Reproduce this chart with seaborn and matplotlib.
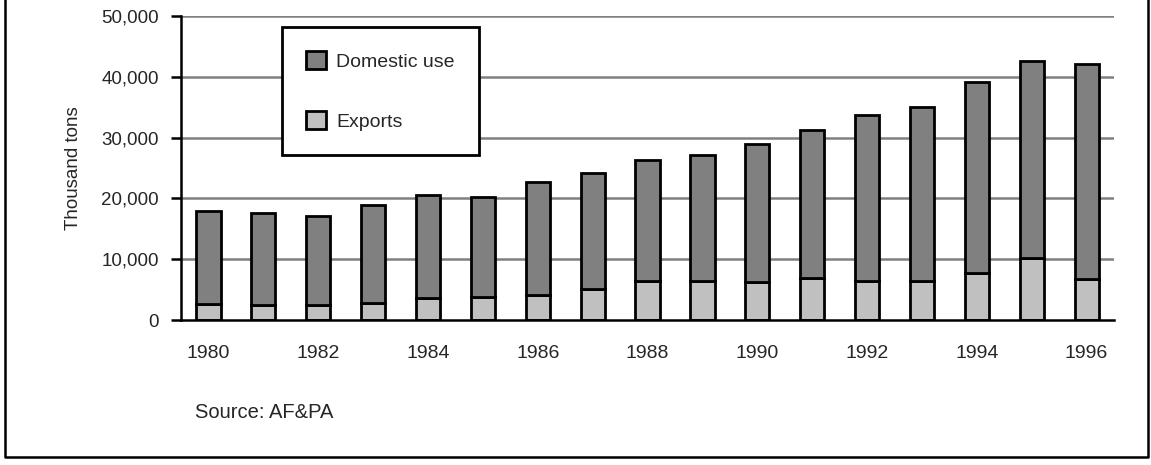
import matplotlib
matplotlib.use("Agg")
import matplotlib.pyplot as plt
import seaborn as sns
import pandas as pd
from matplotlib.patches import Patch
from matplotlib.lines import Line2D
from matplotlib.ticker import FuncFormatter, FixedLocator

# Data (thousand tons)
years = [str(y) for y in range(1980, 1997)]
exports = [2700, 2400, 2400, 2800, 3700, 3800, 4150, 5150, 6350, 6350,
           6300, 6850, 6350, 6350, 7700, 10250, 6800]
domestic = [15250, 15250, 14700, 16050, 16900, 16400, 18600, 18950, 19950, 20850,
            22650, 24350, 27400, 28750, 31400, 32300, 35350]
tick_labels = [y if int(y) % 2 == 0 else "" for y in years]

df = pd.DataFrame({"year": years, "exports": exports, "domestic": domestic})

sns.set_style("white")
plt.rcParams["font.family"] = ["Liberation Sans", "DejaVu Sans"]

fig = plt.figure(figsize=(11.51, 4.65), dpi=100)
ax = fig.add_axes([0.1573, 0.3118, 0.8106, 0.6538])

# gridlines behind the bars
for v in range(10000, 50001, 10000):
    ax.axhline(v, color="#808080", lw=1.8, zorder=0)

bar_kw = dict(width=0.44, saturation=1, edgecolor="black", linewidth=2.0,
              errorbar=None, ax=ax, zorder=2)
sns.barplot(data=df, x="year", y="exports", color="#c0c0c0", **bar_kw)
sns.barplot(data=df, x="year", y="domestic", color="#808080",
            bottom=df["exports"].values, **bar_kw)

ax.set_xlim(-0.5, len(years) - 0.5)
ax.set_ylim(0, 50000)
ax.set_yticks(range(0, 50001, 10000))
ax.yaxis.set_major_formatter(FuncFormatter(lambda v, p: f"{int(v):,}"))
ax.set_xticks(range(len(years)))
ax.set_xticklabels(tick_labels)
ax.xaxis.set_minor_locator(FixedLocator([i - 0.5 for i in range(len(years) + 1)]))

ax.tick_params(axis="x", which="major", length=0, pad=18, labelsize=14)
ax.tick_params(axis="x", which="minor", length=10, width=1.8, direction="inout", color="black")
ax.tick_params(axis="y", which="major", length=7, width=1.8, direction="out", color="black",
               labelsize=13.5, pad=9, left=True)

for s in ["top", "right"]:
    ax.spines[s].set_visible(False)
for s in ["left", "bottom"]:
    ax.spines[s].set_color("black")
    ax.spines[s].set_linewidth(1.8)
    ax.spines[s].set_zorder(4)

ax.set_xlabel("")
ax.set_ylabel("Thousand tons", fontsize=13.5, labelpad=14)

handles = [Patch(facecolor="#808080", edgecolor="black", linewidth=2.0, label="Domestic use"),
           Patch(facecolor="#c0c0c0", edgecolor="black", linewidth=2.0, label="Exports")]
leg = ax.legend(handles=handles, loc="upper left", bbox_to_anchor=(0.108, 0.964),
                frameon=True, fancybox=False, fontsize=14, handlelength=1.0,
                handleheight=1.0, labelspacing=2.1, borderpad=1.25, handletextpad=0.55,
                borderaxespad=0)
leg.get_frame().set_edgecolor("black")
leg.get_frame().set_linewidth(2.0)
leg.get_frame().set_alpha(1)
leg.set_zorder(5)

fig.text(195 / 1151, 1 - 412 / 465, "Source: AF&PA", fontsize=14.5, va="center", ha="left")

# figure frame (left, right and bottom edges)
fx0, fx1, fy0 = 5 / 1151, 1148 / 1151, 1 - 457 / 465
fig.add_artist(Line2D([fx0, fx0, fx1, fx1], [1.02, fy0, fy0, 1.02], color="black", lw=1.8))

fig.savefig("out.png", dpi=100)
